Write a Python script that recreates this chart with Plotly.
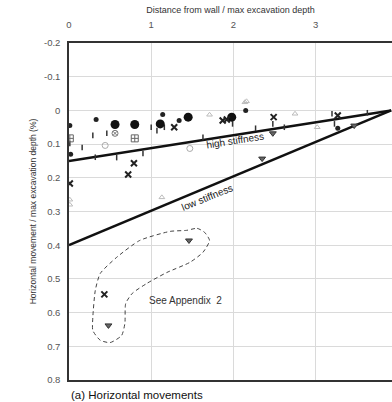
import plotly.graph_objects as go

# ---- data ----
big_dot_x = [0.56, 0.80, 1.11, 1.45, 1.98]
big_dot_y = [0.042, 0.042, 0.040, 0.020, 0.020]

small_dot_x = [0.01, 0.33, 1.14, 2.15, 0.02, 3.27, 1.34]
small_dot_y = [0.045, 0.027, 0.012, 0.000, 0.130, 0.053, 0.030]

cross_x = [0.43, 1.28, 0.79, 0.72, 0.01, 1.87, 1.92, 2.49, 3.27]
cross_y = [0.546, 0.050, 0.157, 0.190, 0.217, 0.030, 0.027, 0.020, 0.015]

sqplus_x = [0.01, 0.80]
sqplus_y = [0.083, 0.083]

circx_x = [0.56]
circx_y = [0.068]

open_x = [0.44, 1.47]
open_y = [0.104, 0.113]

tri_x = [2.35, 2.48, 3.47, 0.48, 1.46]
tri_y = [0.143, 0.068, 0.045, 0.638, 0.386]

tick_x = [0.29, 0.46, 0.16, 0.32, 0.58, 0.90, 1.00, 1.07, 1.63, 2.27, 2.62, 3.23, 3.20, 3.63, 2.48, 1.99, 0.01, 1.16]
tick_y = [0.074, 0.068, 0.110, 0.139, 0.140, 0.128, 0.050, 0.060, 0.080, 0.053, 0.050, 0.040, 0.010, 0.007, 0.040, 0.040, 0.098, 0.050]

faint_x = [1.71, 2.16, 2.75, 3.02, 1.13, 0.01, 0.01, 2.14]
faint_y = [0.013, -0.027, 0.010, 0.050, 0.258, 0.280, 0.265, -0.024]

high_x = [0.0, 3.92]
high_y = [0.15, 0.0]
low_x = [0.0, 3.92]
low_y = [0.40, 0.0]

loop_x = [1.43, 1.56, 1.65, 1.71, 1.63, 1.47, 1.19, 0.95, 0.77, 0.69, 0.68, 0.64, 0.50,
          0.38, 0.29, 0.29, 0.32, 0.38, 0.58, 0.86, 1.23, 1.43]
loop_y = [0.356, 0.350, 0.362, 0.386, 0.421, 0.451, 0.481, 0.513, 0.543, 0.573, 0.632, 0.668, 0.689,
          0.682, 0.653, 0.614, 0.534, 0.484, 0.436, 0.386, 0.359, 0.356]

x_ticks = [0, 1, 2, 3, 4]
y_ticks = [-0.2, -0.1, 0, 0.1, 0.2, 0.3, 0.4, 0.5, 0.6, 0.7, 0.8]
y_tick_text = ["-0.2", "-0.1", "0", "0.1", "0.2", "0.3", "0.4", "0.5", "0.6", "0.7", "0.8"]

FONT = "Liberation Sans"
fig = go.Figure()

fig.add_trace(go.Scatter(x=loop_x, y=loop_y, mode="lines",
                         line=dict(color="#444", width=1, dash="4px,3px", shape="spline", smoothing=0.6)))
fig.add_trace(go.Scatter(x=high_x, y=high_y, mode="lines", line=dict(color="#111", width=2.5)))
fig.add_trace(go.Scatter(x=low_x, y=low_y, mode="lines", line=dict(color="#111", width=2.5)))

fig.add_trace(go.Scatter(x=faint_x, y=faint_y, mode="markers",
                         marker=dict(symbol="triangle-up-open", size=5, color="#bbb", line=dict(width=1, color="#bbb"))))
fig.add_trace(go.Scatter(x=tick_x, y=tick_y, mode="markers",
                         marker=dict(symbol="line-ns", size=4, line=dict(width=1.5, color="#333"))))
fig.add_trace(go.Scatter(x=big_dot_x, y=big_dot_y, mode="markers",
                         marker=dict(symbol="circle", size=9, color="#111")))
fig.add_trace(go.Scatter(x=small_dot_x, y=small_dot_y, mode="markers",
                         marker=dict(symbol="circle", size=5, color="#222")))
fig.add_trace(go.Scatter(x=cross_x, y=cross_y, mode="markers",
                         marker=dict(symbol="x-thin", size=6, line=dict(width=2, color="#222"))))
fig.add_trace(go.Scatter(x=sqplus_x, y=sqplus_y, mode="markers",
                         marker=dict(symbol="square-cross-open", size=7, color="#666", line=dict(width=1, color="#666"))))
fig.add_trace(go.Scatter(x=circx_x, y=circx_y, mode="markers",
                         marker=dict(symbol="circle-x-open", size=6, color="#777", line=dict(width=1, color="#777"))))
fig.add_trace(go.Scatter(x=open_x, y=open_y, mode="markers",
                         marker=dict(symbol="circle-open", size=6, color="#aaa", line=dict(width=1, color="#aaa"))))
fig.add_trace(go.Scatter(x=tri_x, y=tri_y, mode="markers",
                         marker=dict(symbol="triangle-down", size=6, color="#666", line=dict(width=1, color="#333"))))

fig.add_annotation(x=2.02, y=0.089, text="high stiffness", showarrow=False, textangle=-9,
                   font=dict(family=FONT, size=10, color="#222"))
fig.add_annotation(x=1.68, y=0.258, text="low stiffness", showarrow=False, textangle=-22,
                   font=dict(family=FONT, size=10, color="#222"))
fig.add_annotation(x=1.42, y=0.564, text="See Appendix  2", showarrow=False,
                   font=dict(family=FONT, size=10, color="#333"))
fig.add_annotation(xref="paper", yref="paper", x=0.0, y=-0.045, xanchor="left", yanchor="middle",
                   text="(a) Horizontal movements", showarrow=False,
                   font=dict(family=FONT, size=11.5, color="#111"))

fig.update_layout(
    width=392, height=402,
    margin=dict(l=69, r=0, t=43, b=22, autoexpand=False),
    plot_bgcolor="white", paper_bgcolor="white",
    showlegend=False,
    font=dict(family=FONT, size=9, color="#555"),
    xaxis=dict(side="top", range=[0, 3.93], tickvals=x_ticks, ticks="", automargin=False,
               ticklabelstandoff=9,
               showgrid=True, gridcolor="#dadada", gridwidth=1, zeroline=False,
               showline=True, linecolor="#333", linewidth=1.5, mirror=True,
               tickfont=dict(size=9.5, color="#555"),
               title=dict(text="Distance from wall / max excavation depth", standoff=4,
                          font=dict(size=9, color="#333"))),
    yaxis=dict(range=[0.8, -0.2], tickvals=y_ticks, ticktext=y_tick_text, ticks="", automargin=False,
               ticklabelstandoff=5,
               showgrid=True, gridcolor="#dadada", gridwidth=1, zeroline=False,
               showline=True, linecolor="#333", linewidth=1.5,
               tickfont=dict(size=9.5, color="#555"),
               title=dict(text="Horizontal movement / max excavation depth (%)", standoff=6,
                          font=dict(size=8.5, color="#333"))),
)

fig.write_html("out.html", config={"displayModeBar": False},
               post_script="document.body.style.margin='0';document.documentElement.style.overflow='hidden';")
